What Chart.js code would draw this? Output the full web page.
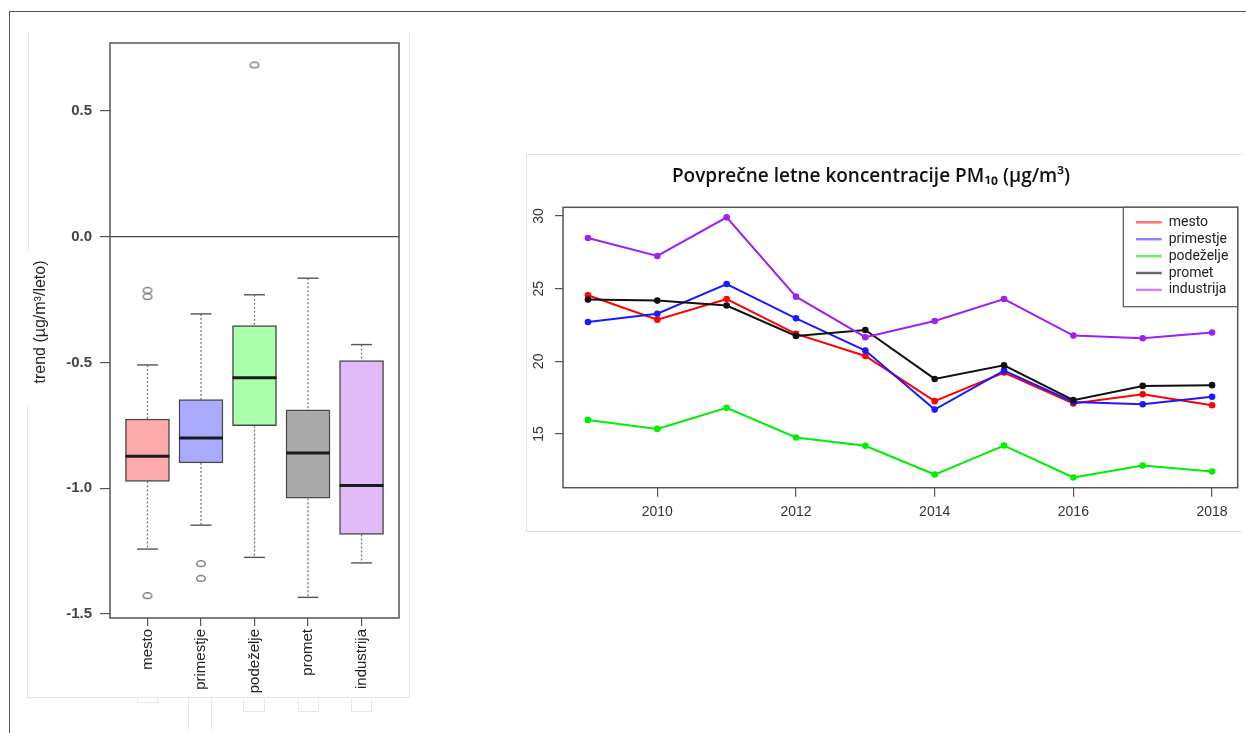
<!DOCTYPE html>
<html>
<head>
<meta charset="utf-8">
<script src="https://cdn.jsdelivr.net/npm/chart.js@4.4.1/dist/chart.umd.min.js"></script>
<style>
html, body { margin: 0; padding: 0; background: #fff; }
body { width: 1246px; height: 733px; position: relative; overflow: hidden; font-family: "Liberation Sans", Arial, sans-serif; }
.frame { position: absolute; left: 9px; top: 11px; right: 0; bottom: 0; border-top: 1px solid #555; border-left: 1px solid #555; }
.edge { position: absolute; background: #e6e6e6; }
.stub { position: absolute; box-sizing: border-box; border: 1px solid #e8e8e8; border-top: none; }
.panel { position: absolute; left: 526px; top: 154px; width: 716px; height: 378px; box-sizing: border-box; border: 1px solid #e2e2e2; border-right: none; }
#boxCanvas { position: absolute; left: 0; top: 0; }
#lineCanvas { position: absolute; left: 526px; top: 154px; }
</style>
</head>
<body>
<div class="frame"></div>

<!-- light outline of the trend panel -->
<div class="edge" style="left:28px;top:32px;width:1px;height:220px;"></div>
<div class="edge" style="left:27px;top:405px;width:1px;height:293px;"></div>
<div class="edge" style="left:409px;top:32px;width:1px;height:666px;"></div>
<div class="edge" style="left:27px;top:697px;width:383px;height:1px;"></div>
<div class="edge" style="left:188px;top:697px;width:1px;height:34px;"></div>
<div class="edge" style="left:211px;top:697px;width:1px;height:34px;"></div>
<div class="stub" style="left:137px;top:697px;width:21px;height:6px;"></div>
<div class="stub" style="left:243px;top:697px;width:22px;height:15px;"></div>
<div class="stub" style="left:298px;top:697px;width:21px;height:15px;"></div>
<div class="stub" style="left:351px;top:697px;width:21px;height:15px;"></div>

<div class="panel"></div>

<canvas id="boxCanvas" width="420" height="733"></canvas>
<canvas id="lineCanvas" width="716" height="378"></canvas>

<script>
// ---- Trend distribution per station type (µg/m³ per year) ----
const boxCategories = ['mesto', 'primestje', 'podeželje', 'promet', 'industrija'];
const boxLowerHinge = [-0.973, -0.899, -0.751, -1.040, -1.184];
const boxUpperHinge = [-0.725, -0.648, -0.353, -0.688, -0.493];
const boxMedian     = [-0.873, -0.800, -0.561, -0.860, -0.989];
const whiskerLow    = [-1.242, -1.147, -1.275, -1.434, -1.297];
const whiskerHigh   = [-0.510, -0.307, -0.231, -0.165, -0.429];
const outlierValues = [[-0.213, -0.238, -1.427], [-1.300, -1.358], [0.683], [], []];
const trendTicks    = [-1.5, -1.0, -0.5, 0.0, 0.5];

// ---- Annual mean PM10 concentrations (µg/m³) ----
const years        = [2009, 2010, 2011, 2012, 2013, 2014, 2015, 2016, 2017, 2018];
const pmMesto      = [24.55, 22.87, 24.29, 21.89, 20.37, 17.26, 19.23, 17.10, 17.74, 16.98];
const pmPrimestje  = [22.71, 23.28, 25.32, 22.96, 20.74, 16.68, 19.36, 17.21, 17.05, 17.56];
const pmPodezelje  = [15.97, 15.35, 16.80, 14.76, 14.19, 12.21, 14.21, 12.01, 12.83, 12.42];
const pmPromet     = [24.25, 24.18, 23.84, 21.75, 22.16, 18.79, 19.73, 17.33, 18.31, 18.36];
const pmIndustrija = [28.49, 27.25, 29.91, 24.45, 21.66, 22.78, 24.29, 21.77, 21.59, 21.98];
const seriesNames  = ['mesto', 'primestje', 'podeželje', 'promet', 'industrija'];
const seriesValues = [pmMesto, pmPrimestje, pmPodezelje, pmPromet, pmIndustrija];
const yearTicks    = [2010, 2012, 2014, 2016, 2018];
const pmTicks      = [15, 20, 25, 30];
const chartTitle   = 'Povprečne letne koncentracije PM₁₀ (µg/m³)';
const trendTitle   = 'trend (µg/m³/leto)';

// styling
const boxFill       = ['#FFAAAA', '#AAAAFF', '#AAFFAA', '#AAAAAA', '#E0BBF8'];
const seriesColors  = ['#FF0000', '#1A1AFF', '#00EE00', '#111111', '#A020F0'];
const legendColors  = ['rgba(255,0,0,0.55)', 'rgba(30,30,255,0.55)', 'rgba(0,230,0,0.6)', 'rgba(0,0,0,0.6)', 'rgba(160,32,240,0.55)'];
const rFont = '"Liberation Sans", Arial, sans-serif';

// open ring used for outlying observations
function ringImage() {
  const c = document.createElement('canvas');
  c.width = 12; c.height = 9;
  const g = c.getContext('2d');
  g.strokeStyle = '#666';
  g.lineWidth = 1.2;
  g.beginPath();
  g.ellipse(6, 4.5, 4.3, 2.9, 0, 0, Math.PI * 2);
  g.stroke();
  return c;
}

const outlierPoints = [];
outlierValues.forEach((vals, i) => vals.forEach(v => outlierPoints.push({ x: i + 1, y: v })));

function hline(ctx, x1, x2, y) { ctx.beginPath(); ctx.moveTo(x1, y); ctx.lineTo(x2, y); ctx.stroke(); }
function vline(ctx, x, y1, y2) { ctx.beginPath(); ctx.moveTo(x, y1); ctx.lineTo(x, y2); ctx.stroke(); }

const boxDecor = {
  id: 'boxDecor',
  beforeDatasetsDraw(chart) {
    const { ctx, chartArea: a, scales: { x, y } } = chart;
    ctx.save();
    // zero reference line
    ctx.strokeStyle = '#444';
    ctx.lineWidth = 1.3;
    hline(ctx, a.left, a.right, y.getPixelForValue(0));
    // whiskers
    boxCategories.forEach((c, i) => {
      const px = x.getPixelForValue(i + 1);
      ctx.setLineDash([2, 2]);
      ctx.strokeStyle = '#777';
      ctx.lineWidth = 1.3;
      vline(ctx, px, y.getPixelForValue(whiskerHigh[i]), y.getPixelForValue(boxUpperHinge[i]));
      vline(ctx, px, y.getPixelForValue(boxLowerHinge[i]), y.getPixelForValue(whiskerLow[i]));
      ctx.setLineDash([]);
      ctx.strokeStyle = '#555';
      ctx.lineWidth = 1.4;
      hline(ctx, px - 10.5, px + 10.5, y.getPixelForValue(whiskerHigh[i]));
      hline(ctx, px - 10.5, px + 10.5, y.getPixelForValue(whiskerLow[i]));
    });
    // plot frame
    ctx.strokeStyle = '#555';
    ctx.lineWidth = 1.5;
    ctx.strokeRect(a.left, a.top, a.right - a.left, a.bottom - a.top);
    ctx.restore();
  },
  afterDatasetsDraw(chart) {
    const { ctx, scales: { x, y } } = chart;
    ctx.save();
    ctx.strokeStyle = '#1a1a1a';
    ctx.lineWidth = 3;
    boxCategories.forEach((c, i) => {
      const px = x.getPixelForValue(i + 1);
      hline(ctx, px - 22, px + 22, y.getPixelForValue(boxMedian[i]));
    });
    ctx.restore();
  },
  afterDraw(chart) {
    const { ctx } = chart;
    ctx.save();
    ctx.fillStyle = '#222';
    ctx.font = '16px ' + rFont;
    ctx.textAlign = 'center';
    ctx.textBaseline = 'middle';
    ctx.translate(41, 322);
    ctx.rotate(-Math.PI / 2);
    ctx.fillText(trendTitle, 0, 0);
    ctx.restore();
  }
};

new Chart(document.getElementById('boxCanvas'), {
  type: 'bar',
  data: {
    datasets: [
      {
        type: 'bar',
        data: boxCategories.map((c, i) => ({ x: i + 1, y: [boxLowerHinge[i], boxUpperHinge[i]] })),
        backgroundColor: boxFill,
        borderColor: '#4a4a4a',
        borderWidth: 1.5,
        borderSkipped: false,
        barThickness: 44,
        order: 2
      },
      {
        type: 'line',
        data: outlierPoints,
        showLine: false,
        pointStyle: ringImage(),
        pointRadius: 4,
        order: 1
      }
    ]
  },
  options: {
    responsive: false,
    animation: false,
    devicePixelRatio: 1,
    layout: { padding: { left: 0, right: 21, top: 43, bottom: 0 } },
    plugins: { legend: { display: false }, tooltip: { enabled: false } },
    scales: {
      x: {
        type: 'linear',
        min: 0.3,
        max: 5.7,
        offset: false,
        afterBuildTicks: s => { s.ticks = boxCategories.map((c, i) => ({ value: i + 1 })); },
        afterFit: s => { s.height = 115; },
        ticks: {
          minRotation: 90, maxRotation: 90, autoSkip: false, padding: 3,
          color: '#222', font: { family: rFont, size: 15 },
          callback: v => boxCategories[v - 1]
        },
        grid: { offset: false, drawOnChartArea: false, tickLength: 8, color: '#555', lineWidth: 1.2 },
        border: { display: false }
      },
      y: {
        min: -1.516,
        max: 0.770,
        afterBuildTicks: s => { s.ticks = trendTicks.map(v => ({ value: v })); },
        afterFit: s => { s.width = 110; },
        ticks: {
          padding: 8, color: '#444', font: { family: rFont, size: 15, weight: 'bold' },
          callback: v => v.toFixed(1)
        },
        grid: { drawOnChartArea: false, tickLength: 10, color: '#555', lineWidth: 1.2 },
        border: { display: false }
      }
    }
  },
  plugins: [boxDecor]
});

// ---- line chart ----
const lineDecor = {
  id: 'lineDecor',
  beforeDatasetsDraw(chart) {
    const { ctx, chartArea: a } = chart;
    ctx.save();
    ctx.strokeStyle = '#555';
    ctx.lineWidth = 1.5;
    ctx.strokeRect(a.left, a.top, a.right - a.left, a.bottom - a.top);
    ctx.restore();
  },
  afterDraw(chart) {
    const { ctx, chartArea: a, scales: { y } } = chart;
    ctx.save();
    // y tick labels, read along the axis
    ctx.fillStyle = '#333';
    ctx.font = '14px ' + rFont;
    ctx.textAlign = 'center';
    ctx.textBaseline = 'middle';
    y.ticks.forEach(t => {
      ctx.save();
      ctx.translate(12.7, y.getPixelForValue(t.value));
      ctx.rotate(-Math.PI / 2);
      ctx.fillText(String(t.value), 0, 0);
      ctx.restore();
    });
    // title
    ctx.fillStyle = '#111';
    ctx.font = '600 19px "Open Sans", sans-serif';
    ctx.fillText(chartTitle, 345, 23);
    // legend
    const lx = 597.3, ly = a.top, lw = a.right - lx, lh = 99.4;
    ctx.fillStyle = '#fff';
    ctx.fillRect(lx, ly, lw, lh);
    ctx.strokeStyle = '#555';
    ctx.lineWidth = 1.2;
    ctx.strokeRect(lx, ly, lw, lh);
    ctx.font = '14px Roboto, sans-serif';
    ctx.textAlign = 'left';
    chart.data.datasets.forEach((ds, i) => {
      const ry = ly + 15 + i * 16.9;
      ctx.strokeStyle = legendColors[i];
      ctx.lineWidth = 2.5;
      hline(ctx, lx + 12.7, lx + 38.4, ry);
      ctx.fillStyle = '#222';
      ctx.fillText(ds.label, lx + 45.4, ry);
    });
    ctx.restore();
  }
};

new Chart(document.getElementById('lineCanvas'), {
  type: 'line',
  data: {
    datasets: seriesNames.map((name, i) => ({
      label: name,
      data: years.map((yr, j) => ({ x: yr, y: seriesValues[i][j] })),
      borderColor: seriesColors[i],
      backgroundColor: seriesColors[i],
      pointBackgroundColor: seriesColors[i],
      pointBorderWidth: 0,
      pointRadius: 3.3,
      borderWidth: 2,
      tension: 0,
      order: seriesNames.length - 1 - i
    }))
  },
  options: {
    responsive: false,
    animation: false,
    devicePixelRatio: 1,
    layout: { padding: { left: 0, right: 4.3, top: 53.3, bottom: 0 } },
    plugins: { legend: { display: false }, tooltip: { enabled: false }, title: { display: false } },
    scales: {
      x: {
        type: 'linear',
        min: 2008.64,
        max: 2018.37,
        afterBuildTicks: s => { s.ticks = yearTicks.map(v => ({ value: v })); },
        afterFit: s => { s.height = 44.3; },
        ticks: { padding: 7, color: '#333', font: { family: rFont, size: 14 }, callback: v => String(v) },
        grid: { drawOnChartArea: false, tickLength: 9, color: '#555', lineWidth: 1.2 },
        border: { display: false }
      },
      y: {
        type: 'linear',
        min: 11.305,
        max: 30.6,
        afterBuildTicks: s => { s.ticks = pmTicks.map(v => ({ value: v })); },
        afterFit: s => { s.width = 37; },
        ticks: { color: 'rgba(0,0,0,0)', font: { family: rFont, size: 14 } },
        grid: { drawOnChartArea: false, tickLength: 8, color: '#555', lineWidth: 1.2 },
        border: { display: false }
      }
    }
  },
  plugins: [lineDecor]
});
</script>
</body>
</html>
